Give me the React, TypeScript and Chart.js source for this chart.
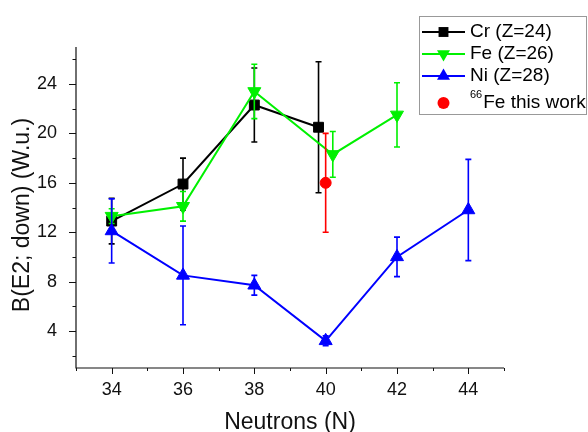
import React, { useEffect, useRef } from 'react';
import { Chart, registerables } from 'chart.js';

Chart.register(...registerables);

const crN = [34, 36, 38, 39.8];
const crB = [12.9, 15.9, 22.3, 20.5];
const crErr = [1.85, 2.1, 3.0, 5.3];

const feN = [34, 36, 38, 40.2, 42];
const feB = [13.3, 14.1, 23.4, 18.3, 21.5];
const feErr = [0.6, 1.2, 2.2, 1.85, 2.6];

const niN = [34, 36, 38, 40, 42, 44];
const niB = [12.1, 8.5, 7.7, 3.2, 10.0, 13.8];
const niErr = [2.6, 4.0, 0.8, 0.4, 1.6, 4.1];

const fe66N = [40];
const fe66B = [16.0];
const fe66Err = [4.0];

const xMajor = [34, 36, 38, 40, 42, 44];
const xMinor = [33, 35, 37, 39, 41, 43, 45];
const yMajor = [4, 8, 12, 16, 20, 24];
const yMinor = [2, 6, 10, 14, 18, 22, 26];

const seriesLabels = ['Cr (Z=24)', 'Fe (Z=26)', 'Ni (Z=28)', 'Fe this work'];
const superLabel = '66';
const xTitle = 'Neutrons (N)';
const yTitle = 'B(E2; down) (W.u.)';

const FONT = '"Liberation Sans", Arial, Helvetica, sans-serif';
const BLACK = '#000000';
const GREEN = '#00f000';
const BLUE = '#0000ff';
const RED = '#ff0000';

function pts(xs: number[], ys: number[]) {
  return xs.map((x, i) => ({ x, y: ys[i] }));
}

function drawMarker(ctx: CanvasRenderingContext2D, style: string, x: number, y: number, r: number, color: string) {
  ctx.save();
  ctx.fillStyle = color;
  ctx.beginPath();
  if (style === 'rect') {
    const s = Math.SQRT1_2 * r;
    ctx.rect(x - s, y - s, 2 * s, 2 * s);
  } else if (style === 'tri') {
    ctx.moveTo(x, y - r);
    ctx.lineTo(x + r * Math.sin((2 * Math.PI) / 3), y + r / 2);
    ctx.lineTo(x - r * Math.sin((2 * Math.PI) / 3), y + r / 2);
    ctx.closePath();
  } else if (style === 'triDown') {
    ctx.moveTo(x, y + r);
    ctx.lineTo(x + r * Math.sin((2 * Math.PI) / 3), y - r / 2);
    ctx.lineTo(x - r * Math.sin((2 * Math.PI) / 3), y - r / 2);
    ctx.closePath();
  } else {
    ctx.arc(x, y, r, 0, Math.PI * 2);
  }
  ctx.fill();
  ctx.restore();
}

const errorBarPlugin = {
  id: 'errorBars',
  beforeDatasetDraw(chart: any, args: any) {
    const ds = chart.data.datasets[args.index];
    const errs: number[] | undefined = ds.errors;
    if (!errs) return;
    const meta = chart.getDatasetMeta(args.index);
    const ys = chart.scales.y;
    const ctx = chart.ctx;
    ctx.save();
    ctx.strokeStyle = ds.borderColor;
    ctx.lineWidth = 1.6;
    meta.data.forEach((el: any, i: number) => {
      const v = ds.data[i].y;
      const e = errs[i];
      const x = el.x;
      const yt = ys.getPixelForValue(v + e);
      const yb = ys.getPixelForValue(v - e);
      ctx.beginPath();
      ctx.moveTo(x, yt);
      ctx.lineTo(x, yb);
      ctx.moveTo(x - 3, yt);
      ctx.lineTo(x + 3, yt);
      ctx.moveTo(x - 3, yb);
      ctx.lineTo(x + 3, yb);
      ctx.stroke();
    });
    ctx.restore();
  },
};

const axesPlugin = {
  id: 'axesDeco',
  beforeDatasetsDraw(chart: any) {
    const ctx = chart.ctx;
    const xs = chart.scales.x;
    const ys = chart.scales.y;
    const { left, right, top, bottom } = chart.chartArea;
    ctx.save();
    ctx.strokeStyle = '#111';
    ctx.lineWidth = 1.2;
    ctx.beginPath();
    ctx.moveTo(left, top);
    ctx.lineTo(left, bottom);
    ctx.lineTo(right, bottom);
    ctx.stroke();
    ctx.lineWidth = 1;
    ctx.beginPath();
    xMajor.forEach((v) => {
      const px = Math.round(xs.getPixelForValue(v)) + 0.5;
      ctx.moveTo(px, bottom);
      ctx.lineTo(px, bottom + 6);
    });
    xMinor.forEach((v) => {
      const px = Math.round(xs.getPixelForValue(v)) + 0.5;
      ctx.moveTo(px, bottom);
      ctx.lineTo(px, bottom + 3);
    });
    yMajor.forEach((v) => {
      const py = Math.round(ys.getPixelForValue(v)) + 0.5;
      ctx.moveTo(left, py);
      ctx.lineTo(left - 7, py);
    });
    yMinor.forEach((v) => {
      const py = Math.round(ys.getPixelForValue(v)) + 0.5;
      ctx.moveTo(left, py);
      ctx.lineTo(left - 3.5, py);
    });
    ctx.stroke();

    // y-axis title
    ctx.translate(23, 215);
    ctx.rotate(-Math.PI / 2);
    ctx.fillStyle = '#111';
    ctx.font = `23px ${FONT}`;
    ctx.textAlign = 'center';
    ctx.textBaseline = 'middle';
    ctx.fillText(yTitle, 0, 0);
    ctx.restore();
  },
};

const legendPlugin = {
  id: 'customLegend',
  afterDraw(chart: any) {
    const ctx = chart.ctx;
    ctx.save();
    const bx = 419.5, by = 16.5, bw = 167, bh = 98;
    ctx.fillStyle = '#ffffff';
    ctx.fillRect(bx, by, bw, bh);
    ctx.strokeStyle = '#999';
    ctx.lineWidth = 1;
    ctx.strokeRect(bx, by, bw, bh);
    const rows = [32, 54, 76, 103];
    const colors = [BLACK, GREEN, BLUE, RED];
    const markers = ['rect', 'triDown', 'tri', 'circle'];
    const radii = [7, 7.5, 7.5, 6];
    for (let i = 0; i < 4; i++) {
      const y = rows[i];
      if (i < 3) {
        ctx.strokeStyle = colors[i];
        ctx.lineWidth = 2;
        ctx.beginPath();
        ctx.moveTo(422, y);
        ctx.lineTo(465, y);
        ctx.stroke();
      }
      drawMarker(ctx, markers[i], 443.5, y, radii[i], colors[i]);
      ctx.fillStyle = '#000';
      ctx.textBaseline = 'middle';
      ctx.textAlign = 'left';
      if (i < 3) {
        ctx.font = `19px ${FONT}`;
        ctx.fillText(seriesLabels[i], 470, y);
      } else {
        ctx.font = `11px ${FONT}`;
        ctx.fillText(superLabel, 470, y - 8);
        const w = ctx.measureText(superLabel).width;
        ctx.font = `19px ${FONT}`;
        ctx.fillText(seriesLabels[i], 470 + w + 1, y);
      }
    }
    ctx.restore();
  },
};

export default function App() {
  const ref = useRef<HTMLCanvasElement | null>(null);
  useEffect(() => {
    if (!ref.current) return;
    const chart = new Chart(ref.current, {
      type: 'scatter',
      data: {
        datasets: [
          {
            label: seriesLabels[0],
            data: pts(crN, crB),
            errors: crErr,
            showLine: true,
            borderColor: BLACK,
            backgroundColor: BLACK,
            borderWidth: 2,
            pointStyle: 'rect',
            pointRadius: 7,
            pointBorderWidth: 1,
            order: 4,
          } as any,
          {
            label: seriesLabels[1],
            data: pts(feN, feB),
            errors: feErr,
            showLine: true,
            borderColor: GREEN,
            backgroundColor: GREEN,
            borderWidth: 2,
            pointStyle: 'triangle',
            pointRotation: 180,
            pointRadius: 7.5,
            pointBorderWidth: 1,
            order: 3,
          } as any,
          {
            label: seriesLabels[2],
            data: pts(niN, niB),
            errors: niErr,
            showLine: true,
            borderColor: BLUE,
            backgroundColor: BLUE,
            borderWidth: 2,
            pointStyle: 'triangle',
            pointRadius: 7.5,
            pointBorderWidth: 1,
            order: 2,
          } as any,
          {
            label: seriesLabels[3],
            data: pts(fe66N, fe66B),
            errors: fe66Err,
            showLine: false,
            borderColor: RED,
            backgroundColor: RED,
            borderWidth: 2,
            pointStyle: 'circle',
            pointRadius: 5.5,
            pointBorderWidth: 1,
            order: 1,
          } as any,
        ],
      },
      options: {
        animation: false,
        responsive: false,
        maintainAspectRatio: false,
        layout: { padding: { left: 0, top: 47, right: 84, bottom: 0 } },
        plugins: {
          legend: { display: false },
          tooltip: { enabled: false },
        },
        scales: {
          x: {
            type: 'linear',
            min: 33,
            max: 45,
            grid: { display: false },
            border: { display: false },
            afterBuildTicks: (s: any) => {
              s.ticks = xMajor.map((v) => ({ value: v }));
            },
            afterFit: (s: any) => {
              s.height = 64;
            },
            ticks: {
              padding: 3,
              color: '#111',
              font: { family: FONT, size: 18 },
              maxRotation: 0,
              autoSkip: false,
            },
            title: {
              display: true,
              text: xTitle,
              color: '#111',
              font: { family: FONT, size: 23, lineHeight: 1 },
              padding: { top: 0, bottom: -2 },
            },
          },
          y: {
            type: 'linear',
            min: 1,
            max: 27,
            grid: { display: false },
            border: { display: false },
            afterBuildTicks: (s: any) => {
              s.ticks = yMajor.map((v) => ({ value: v }));
            },
            afterFit: (s: any) => {
              s.width = 76;
            },
            ticks: {
              padding: 11,
              color: '#111',
              font: { family: FONT, size: 18 },
              autoSkip: false,
            },
          },
        },
      } as any,
      plugins: [axesPlugin, errorBarPlugin, legendPlugin],
    });
    return () => chart.destroy();
  }, []);
  return (
    <div style={{ position: 'fixed', left: 0, top: 0, width: 588, height: 432, background: '#fff' }}>
      <canvas ref={ref} width={588} height={432} style={{ width: 588, height: 432, display: 'block' }} />
    </div>
  );
}
